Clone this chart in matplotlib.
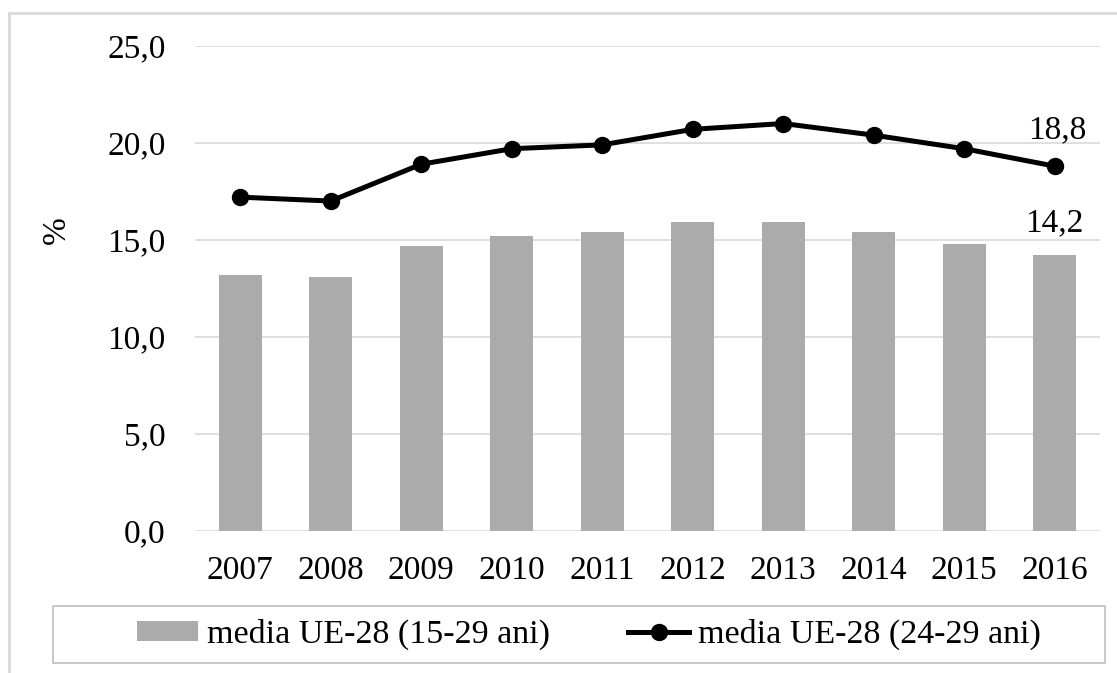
import matplotlib
matplotlib.use('Agg')
import matplotlib.pyplot as plt
from matplotlib.patches import Rectangle
from matplotlib.ticker import FuncFormatter

# media UE-28, valori in %
years = ['2007', '2008', '2009', '2010', '2011', '2012', '2013', '2014', '2015', '2016']
bars_15_29 = [13.2, 13.1, 14.7, 15.2, 15.4, 15.9, 15.9, 15.4, 14.8, 14.2]
line_24_29 = [17.2, 17.0, 18.9, 19.7, 19.9, 20.7, 21.0, 20.4, 19.7, 18.8]
bar_label = 'media UE-28 (15-29 ani)'
line_label = 'media UE-28 (24-29 ani)'

W, H = 1117, 673
FS = 24
plt.rcParams['font.family'] = ['Liberation Serif', 'DejaVu Serif']
fig = plt.figure(figsize=(W / 100, H / 100), dpi=100)
ax = fig.add_axes([195 / W, 1 - 530.5 / H, (1100 - 195) / W, (530.5 - 46) / H])

x = range(len(years))
b = ax.bar(x, bars_15_29, width=0.475, color='#ababab', zorder=2, label=bar_label)
l, = ax.plot(x, line_24_29, color='black', lw=3.6, marker='o', markersize=11.5,
             zorder=3, label=line_label)

ax.set_xlim(-0.5, len(years) - 0.5)
ax.set_ylim(0, 25)
ax.set_yticks([0, 5, 10, 15, 20, 25])
ax.yaxis.set_major_formatter(FuncFormatter(lambda v, p: f'{v:.1f}'.replace('.', ',')))
ax.set_xticks(list(x))
ax.set_xticklabels(years)
ax.tick_params(axis='y', length=0, pad=21, labelsize=FS)
ax.tick_params(axis='x', length=0, pad=18, labelsize=FS)
ax.grid(axis='y', color='#d9d9d9', lw=1.2, zorder=0)
for s in ax.spines.values():
    s.set_visible(False)

# last values
ax.annotate('18,8', (len(years) - 1, line_24_29[-1]), xytext=(2, 26),
            textcoords='offset points', ha='center', va='center', fontsize=FS)
ax.annotate('14,2', (len(years) - 1, bars_15_29[-1]), xytext=(0, 23),
            textcoords='offset points', ha='center', va='center', fontsize=FS)

fig.text(57 / W, 1 - 230 / H, '%', rotation=90, ha='center', va='center', fontsize=FS)

# outer frame and legend box
fig.patches.append(Rectangle((9 / W, -0.1), 1.2, 1 - 13 / H + 0.1, transform=fig.transFigure,
                             fill=False, edgecolor='#dcdcdc', lw=2.2))
fig.patches.append(Rectangle((53 / W, 1 - 663 / H), (1105 - 53) / W, (663 - 606) / H,
                             transform=fig.transFigure, fill=False, edgecolor='#bfbfbf', lw=1.2))
fig.legend(handles=[b, l], loc='center', bbox_to_anchor=(589 / W, 1 - 634.5 / H), ncol=2,
           frameon=False, fontsize=FS + 0.5, handlelength=1.8, handleheight=0.55,
           handletextpad=0.25, columnspacing=2.3, borderpad=0)

fig.savefig('out.png', dpi=100)
